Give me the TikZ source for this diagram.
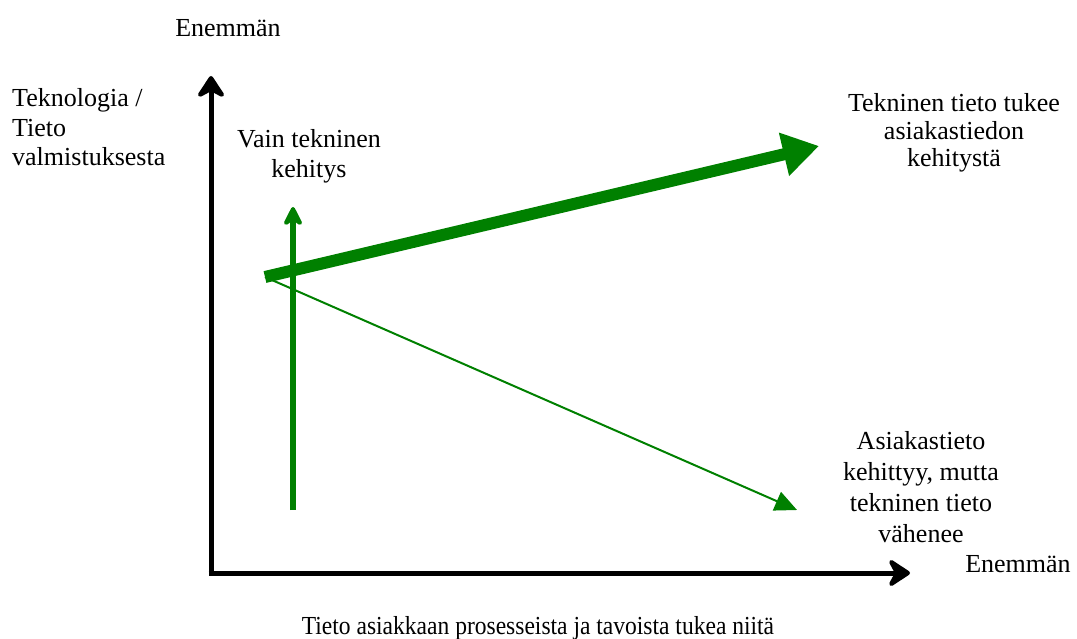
\documentclass[tikz,border=0pt]{standalone}
\usepackage{fontspec}
\setmainfont{Liberation Serif}
\newfontfamily\timesfont{Liberation Serif}
\usetikzlibrary{arrows.meta}
\definecolor{leafgreen}{RGB}{0,128,0}
\begin{document}
\begin{tikzpicture}[x=1bp,y=-1bp,
  lbl/.style={font=\timesfont\fontsize{26bp}{#1}\selectfont, inner sep=0pt},
  lbl/.default=29.5bp,
  axis/.style={line width=5bp, black, line cap=butt,
    -{Stealth[length=26bp,width=34bp,inset=9bp,round]}},
  upgrowth/.style={line width=6bp, leafgreen,
    -{Stealth[length=24bp,width=24bp,inset=8bp,round]}},
  boldtrend/.style={line width=12bp, leafgreen,
    -{Triangle[length=36bp,width=42bp]}},
  thintrend/.style={line width=2bp, leafgreen,
    -{Triangle[length=22bp,width=20bp]}}]
\useasboundingbox (0,0) rectangle (1077,639);
% axes
\coordinate (origin) at (211,573);
\coordinate (ytip) at (211,76);
\coordinate (xtip) at (910,573);
\draw[axis] ([yshift=2.5bp]origin) -- (ytip);
\draw[axis] ([xshift=-2.5bp]origin) -- (xtip);
% trends
\coordinate (start) at (265,277);
\coordinate (techtip) at (819,146);
\coordinate (custtip) at (797,510);
\coordinate (vbase) at (293,510);
\coordinate (vtip) at (293,207);
\draw[upgrowth] (vbase) -- (vtip);
\draw[thintrend] (start) -- (custtip);
\draw[boldtrend] (start) -- (techtip);
% labels (base anchor of a multi-line node sits on its last line)
\node[lbl, anchor=base] (ytop) at (228,37) {Enemmän};
\node[lbl, anchor=base west, align=left] (ylabel) at (12,166) {Teknologia /\\Tieto\\valmistuksesta};
\node[lbl=30bp, anchor=base, align=center] (vlabel) at (309,178) {Vain tekninen\\kehitys};
\node[lbl=27.5bp, anchor=base, align=center] (tlabel) at (954,167) {Tekninen tieto tukee\\asiakastiedon\\kehitystä};
\node[lbl=30.7bp, anchor=base, align=center] (clabel) at (921,542) {Asiakastieto\\kehittyy, mutta\\tekninen tieto\\vähenee};
\node[lbl, anchor=base] (xright) at (1018,572) {Enemmän};
\node[lbl, anchor=base] (xlabel) at (538,634) {\scalebox{0.905}[1]{Tieto asiakkaan prosesseista ja tavoista tukea niitä}};
\end{tikzpicture}
\end{document}
